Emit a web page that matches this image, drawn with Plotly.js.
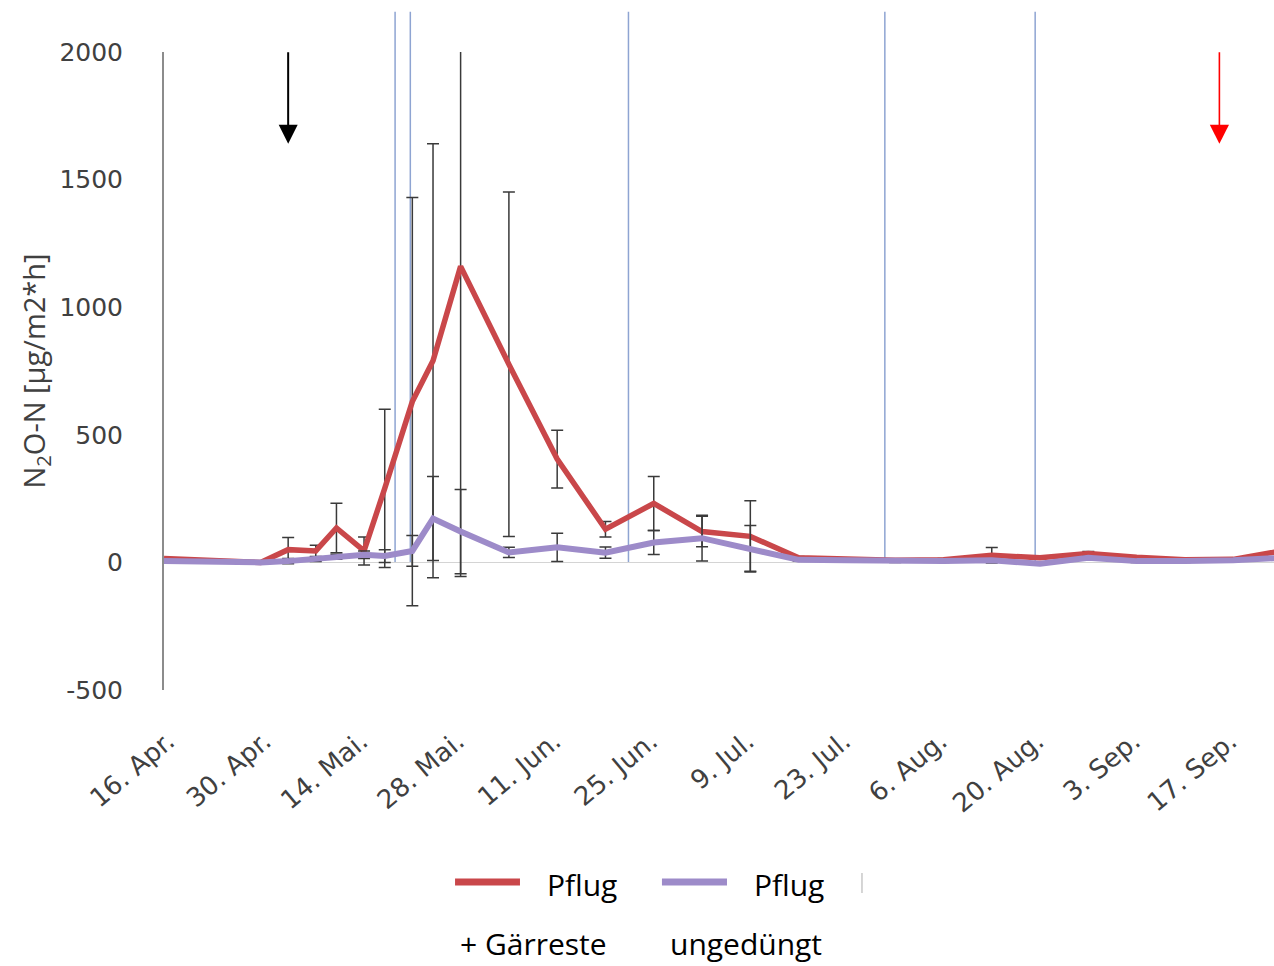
<!DOCTYPE html>
<html><head><meta charset="utf-8">
<script src="https://cdn.plot.ly/plotly-3.0.1.min.js"></script>
<style>html,body{margin:0;padding:0;background:#fff}#chart{width:1274px;height:966px}</style>
</head><body><div id="chart"></div>
<script>
// Measurement dates
const dates = ['2019-04-16','2019-04-30','2019-05-04','2019-05-08','2019-05-11','2019-05-15','2019-05-18',
  '2019-05-22','2019-05-25','2019-05-29','2019-06-05','2019-06-12','2019-06-19','2019-06-26','2019-07-03',
  '2019-07-10','2019-07-17','2019-07-24','2019-07-31','2019-08-07','2019-08-14','2019-08-21','2019-08-28',
  '2019-09-04','2019-09-11','2019-09-18','2019-09-25'];
// Pflug + Gärreste
const pflugGaerreste    = [15, 0, 50, 45, 135, 45, 290, 630, 790, 1160, 776, 405, 130, 231, 121, 102, 18, 12, 8, 10, 28, 18, 35, 20, 10, 12, 45];
const pflugGaerresteErr = [0, 0, 48, 22, 97, 55, 310, 800, 850, 1215, 675, 113, 30, 106, 60, 140, 5, 5, 5, 5, 30, 5, 8, 5, 5, 5, 0];
// Pflug ungedüngt
const pflugUngeduengt    = [5, 0, 5, 12, 22, 30, 25, 45, 172, 121, 39, 59, 38, 78, 95, 55, 10, 8, 5, 5, 8, -5, 18, 5, 5, 8, 18];
const pflugUngeduengtErr = [0, 0, 10, 8, 10, 15, 25, 60, 165, 165, 20, 55, 22, 47, 90, 90, 5, 5, 5, 5, 5, 5, 5, 5, 5, 5, 0];
// Event markers (vertical blue lines)
const eventDates = ['2019-05-19 12:00', '2019-05-21 17:00', '2019-06-22 08:00', '2019-07-29 12:00', '2019-08-20 07:00'];
// Arrows: black = application, red = end
const arrowDates = ['2019-05-04', '2019-09-16'];
const arrowColors = ['#000000', '#ff0000'];
// Axis ticks
const tickDates = ['2019-04-16','2019-04-30','2019-05-14','2019-05-28','2019-06-11','2019-06-25','2019-07-09',
  '2019-07-23','2019-08-06','2019-08-20','2019-09-03','2019-09-17'];
const tickLabels = ['16. Apr.','30. Apr.','14. Mai.','28. Mai.','11. Jun.','25. Jun.','9. Jul.',
  '23. Jul.','6. Aug.','20. Aug.','3. Sep.','17. Sep.'];
const yTicks = [-500, 0, 500, 1000, 1500, 2000];
const yTickLabels = ['-500', '0', '500', '1000', '1500', '2000'];

const errStyle = {type: 'data', visible: true, color: '#3a3a3a', thickness: 1.5, width: 6};

const traces = [
  {x: dates, y: pflugGaerreste, name: 'Pflug + Gärreste', type: 'scatter', mode: 'lines',
   line: {color: '#c9474a', width: 5.5},
   error_y: Object.assign({array: pflugGaerresteErr}, errStyle)},
  {x: dates, y: pflugUngeduengt, name: 'Pflug ungedüngt', type: 'scatter', mode: 'lines',
   line: {color: '#9d8bc9', width: 6},
   error_y: Object.assign({array: pflugUngeduengtErr}, errStyle)}
];

const shapes = eventDates.map(d => ({type: 'line', xref: 'x', yref: 'paper', x0: d, x1: d, y0: 0.2, y1: 1.063,
  line: {color: '#8ea4d2', width: 1.5}, layer: 'below'}));
// custom legend samples
shapes.push({type: 'line', xref: 'paper', yref: 'paper', x0: 0.2622, x1: 0.3207, y0: -0.3009, y1: -0.3009,
  line: {color: '#c9474a', width: 7}});
shapes.push({type: 'line', xref: 'paper', yref: 'paper', x0: 0.4486, x1: 0.5072, y0: -0.3009, y1: -0.3009,
  line: {color: '#9d8bc9', width: 7}});
shapes.push({type: 'line', xref: 'paper', yref: 'paper', x0: 0.6288, x1: 0.6288, y0: -0.2868, y1: -0.3182,
  line: {color: '#c8c8c8', width: 1.5}});

const legendFont = {family: 'Open Sans', size: 30, color: '#000'};
const annotations = arrowDates.map((d, i) => ({x: d, y: 1640, xref: 'x', yref: 'y', text: '',
  showarrow: true, ax: 0, ay: -93, arrowhead: 2, arrowsize: i === 0 ? 1.9 : 2.4, arrowwidth: i === 0 ? 2 : 1.6,
  arrowcolor: arrowColors[i]}));
annotations.push(
  {xref: 'paper', yref: 'paper', x: 0.3432, y: -0.3056, text: 'Pflug', showarrow: false, xanchor: 'left', yanchor: 'middle', font: legendFont},
  {xref: 'paper', yref: 'paper', x: 0.5297, y: -0.3056, text: 'Pflug', showarrow: false, xanchor: 'left', yanchor: 'middle', font: legendFont},
  {xref: 'paper', yref: 'paper', x: 0.2649, y: -0.3966, text: '+ Gärreste', showarrow: false, xanchor: 'left', yanchor: 'middle', font: legendFont},
  {xref: 'paper', yref: 'paper', x: 0.4541, y: -0.3966, text: 'ungedüngt', showarrow: false, xanchor: 'left', yanchor: 'middle', font: legendFont}
);

const layout = {
  width: 1274, height: 966,
  margin: {l: 164, r: 0, t: 52, b: 276},
  paper_bgcolor: '#fff', plot_bgcolor: '#fff',
  showlegend: false,
  font: {family: 'DejaVu Sans', color: '#404040'},
  xaxis: {type: 'date', range: ['2019-04-16', '2019-09-23 22:00'], tickvals: tickDates, ticktext: tickLabels,
    tickangle: -40, showgrid: false, zeroline: false, showline: false, ticks: '',
    tickfont: {family: 'DejaVu Sans', size: 26, color: '#404040'}, ticklabelstandoff: 30, ticklabelshift: 4},
  yaxis: {range: [-500, 2000], tickvals: yTicks, ticktext: yTickLabels, showgrid: false, showline: true,
    linecolor: '#8c8c8c', linewidth: 2,
    zeroline: true, zerolinecolor: '#d4d4d4', zerolinewidth: 1.5, ticks: '', ticklabelstandoff: 34,
    tickfont: {family: 'DejaVu Sans', size: 25, color: '#404040'},
    title: {text: 'N<sub>2</sub>O-N [µg/m2*h]', font: {family: 'Open Sans', size: 29, color: '#404040'}}},
  shapes: shapes,
  annotations: annotations
};

Plotly.newPlot('chart', traces, layout, {displayModeBar: false, staticPlot: true});
</script>
</body></html>
